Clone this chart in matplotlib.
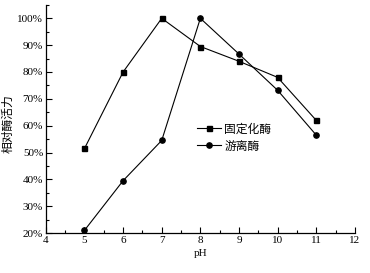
import matplotlib
matplotlib.use("Agg")
import matplotlib.pyplot as plt
from matplotlib.ticker import MultipleLocator, FuncFormatter

ph = [5, 6, 7, 8, 9, 10, 11]
immobilized = [51.5, 80, 100, 89.5, 84, 78, 62]
free = [21, 39.5, 54.5, 100, 86.7, 73.2, 56.5]
labels = ["固定化酶", "游离酶"]

serif = ["Liberation Serif", "DejaVu Serif"]
cjk = ["Noto Sans CJK SC", "DejaVu Sans"]

fig = plt.figure(figsize=(3.7, 2.73), dpi=100)
ax = fig.add_axes([0.124, 0.1465, 0.835, 0.8355])

ax.plot(ph, immobilized, color="black", lw=0.8, marker="s", ms=3.6, label=labels[0])
ax.plot(ph, free, color="black", lw=0.8, marker="o", ms=3.8, label=labels[1])

ax.set_xlim(4, 12)
ax.set_ylim(20, 105)
ax.xaxis.set_major_locator(MultipleLocator(1))
ax.xaxis.set_minor_locator(MultipleLocator(0.5))
ax.yaxis.set_major_locator(MultipleLocator(10))
ax.yaxis.set_minor_locator(MultipleLocator(5))
ax.set_yticks(range(20, 101, 10))
ax.yaxis.set_major_formatter(FuncFormatter(lambda v, p: f"{int(round(v))}%"))
ax.tick_params(which="both", direction="in", width=0.8)
ax.tick_params(which="major", length=4, labelsize=8, pad=2)
ax.tick_params(which="minor", length=2.5)
for lab in ax.get_xticklabels() + ax.get_yticklabels():
    lab.set_fontfamily(serif)

for s in ["top", "right"]:
    ax.spines[s].set_visible(False)
for s in ["left", "bottom"]:
    ax.spines[s].set_linewidth(0.9)

ax.set_xlabel("pH", fontsize=8, family=serif, labelpad=3)
ax.set_ylabel("相对酶活力", fontsize=8.5, family=cjk)
ax.yaxis.set_label_coords(-0.10, 0.48)

leg = ax.legend(loc="upper left", bbox_to_anchor=(0.489, 0.485), frameon=False,
                prop={"family": cjk, "size": 8.5}, handlelength=2.0,
                handletextpad=0.3, labelspacing=0.35, borderpad=0.0,
                borderaxespad=0.0)

fig.savefig("out.png", dpi=100)
